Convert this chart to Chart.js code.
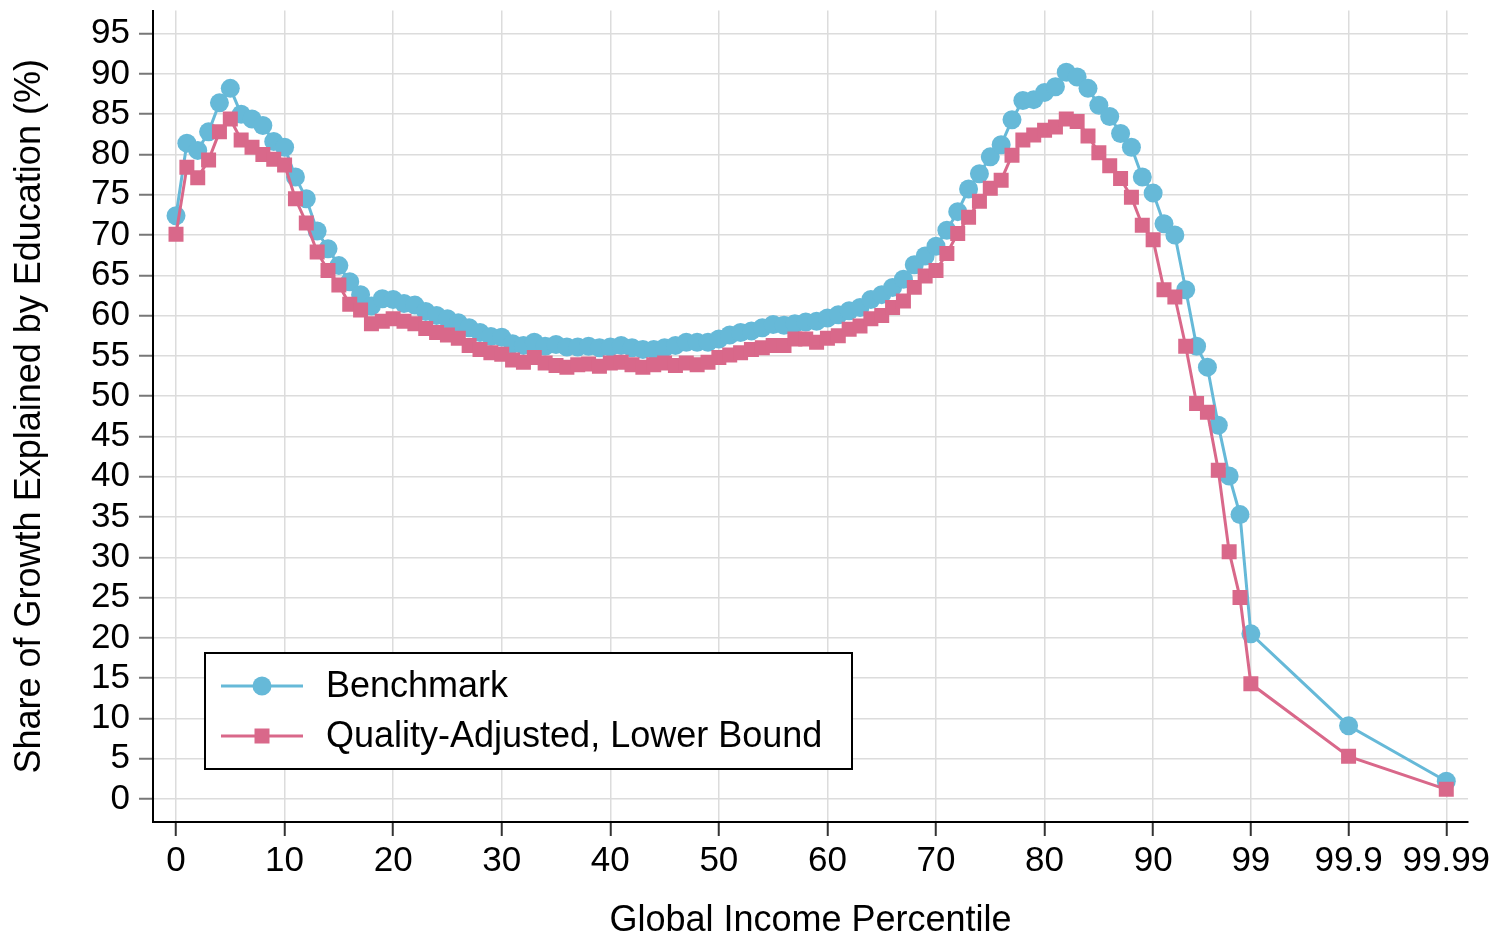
<!DOCTYPE html>
<html>
<head>
<meta charset="utf-8">
<script src="https://cdn.jsdelivr.net/npm/chart.js@4/dist/chart.umd.min.js"></script>
<style>
html,body{margin:0;padding:0;background:#fff;}
#wrap{width:1503px;height:937px;}
</style>
</head>
<body>
<div id="wrap"><canvas id="c" width="1503" height="937"></canvas></div>
<script>
// Position of each global income percentile on the x axis (0..99, then 99.9, 99.99)
const xPositions = [0,1,2,3,4,5,6,7,8,9,10,11,12,13,14,15,16,17,18,19,20,21,22,23,24,25,26,27,28,29,30,31,32,33,34,35,36,37,38,39,40,41,42,43,44,45,46,47,48,49,50,51,52,53,54,55,56,57,58,59,60,61,62,63,64,65,66,67,68,69,70,71,72,73,74,75,76,77,78,79,80,81,82,83,84,85,86,87,88,89,90,91,92,93,94,95,96,97,98,99,108,117];

const benchmark = [72.4,81.4,80.5,82.8,86.4,88.2,85.0,84.4,83.6,81.6,80.9,77.2,74.5,70.5,68.3,66.2,64.2,62.6,61.2,62.1,
62.0,61.5,61.3,60.5,60.0,59.6,59.1,58.5,57.9,57.4,57.3,56.5,56.3,56.7,56.2,56.4,56.1,56.1,56.2,56.0,
56.1,56.3,56.0,55.8,55.8,56.0,56.3,56.7,56.7,56.7,57.1,57.6,57.9,58.1,58.5,58.9,58.8,59.0,59.2,59.3,
59.7,60.1,60.6,61.0,62.0,62.6,63.5,64.5,66.3,67.4,68.6,70.6,72.9,75.7,77.6,79.7,81.2,84.3,86.7,86.8,
87.7,88.4,90.2,89.6,88.2,86.1,84.7,82.6,80.9,77.2,75.2,71.4,70.0,63.2,56.2,53.6,46.4,40.1,35.3,20.5,
9.1,2.2];

const qualityAdjusted = [70.1,78.4,77.1,79.3,82.8,84.4,81.8,80.9,80.0,79.4,78.7,74.5,71.5,67.9,65.6,63.8,61.4,60.7,59.0,59.3,
59.6,59.3,59.0,58.4,57.9,57.6,57.2,56.3,55.8,55.4,55.2,54.5,54.2,54.8,54.1,53.8,53.6,53.9,54.0,53.7,
54.1,54.2,53.9,53.6,53.9,54.1,53.8,54.1,53.9,54.2,54.8,55.1,55.4,55.8,56.0,56.3,56.3,57.1,57.1,56.7,
57.2,57.5,58.3,58.7,59.6,60.0,61.0,61.8,63.5,64.9,65.6,67.7,70.2,72.2,74.2,75.8,76.8,79.9,81.8,82.4,
83.0,83.4,84.4,84.1,82.3,80.2,78.6,77.0,74.7,71.2,69.4,63.2,62.3,56.2,49.1,48.0,40.8,30.7,25.0,14.3,
5.3,1.2];

const xTickValues = [0,10,20,30,40,50,60,70,80,90,99,108,117];
const xTickLabels = ['0','10','20','30','40','50','60','70','80','90','99','99.9','99.99'];
const yTickValues = [0,5,10,15,20,25,30,35,40,45,50,55,60,65,70,75,80,85,90,95];

const seriesNames = ['Benchmark','Quality-Adjusted, Lower Bound'];

const FONT = "'Liberation Sans', Arial, Helvetica, sans-serif";
const BLUE = '#66b9d8';
const RED = '#d9688a';

const legendPlugin = {
  id: 'boxLegend',
  afterDraw(chart) {
    const ctx = chart.ctx;
    const a = chart.chartArea;
    const left = a.left + 52, right = a.left + 699, bottom = a.bottom - 53, top = bottom - 116;
    ctx.save();
    ctx.fillStyle = '#fff';
    ctx.fillRect(left, top, right - left, bottom - top);
    ctx.strokeStyle = '#000';
    ctx.lineWidth = 2;
    ctx.strokeRect(left, top, right - left, bottom - top);
    const rows = [top + 33, top + 83];
    chart.data.datasets.slice().sort((p,q)=>p.legendIndex-q.legendIndex).forEach((ds, i) => {
      const y = rows[i];
      ctx.strokeStyle = ds.borderColor;
      ctx.lineWidth = 3;
      ctx.beginPath();
      ctx.moveTo(left + 16, y);
      ctx.lineTo(left + 98, y);
      ctx.stroke();
      ctx.fillStyle = ds.backgroundColor;
      if (ds.pointStyle === 'circle') {
        ctx.beginPath();
        ctx.arc(left + 57, y, 9.5, 0, Math.PI * 2);
        ctx.fill();
      } else {
        ctx.fillRect(left + 57 - 7.5, y - 7.5, 15, 15);
      }
      ctx.fillStyle = '#000';
      ctx.font = '36px ' + FONT;
      ctx.textBaseline = 'middle';
      ctx.textAlign = 'left';
      ctx.fillText(ds.label, left + 121, y + 1);
    });
    ctx.restore();
  }
};

const toPoints = arr => xPositions.map((x, i) => ({x: x, y: arr[i]}));

new Chart(document.getElementById('c'), {
  type: 'line',
  data: {
    datasets: [
      {
        label: seriesNames[0], legendIndex: 0, order: 1,
        data: toPoints(benchmark),
        borderColor: BLUE, backgroundColor: BLUE,
        borderWidth: 3, pointStyle: 'circle', pointRadius: 9.5,
        pointBorderWidth: 0, pointBackgroundColor: BLUE, tension: 0
      },
      {
        label: seriesNames[1], legendIndex: 1, order: 0,
        data: toPoints(qualityAdjusted),
        borderColor: RED, backgroundColor: RED,
        borderWidth: 3, pointStyle: 'rect', pointRadius: 10.6,
        pointBorderWidth: 0, pointBackgroundColor: RED, tension: 0
      }
    ]
  },
  options: {
    responsive: false,
    animation: false,
    devicePixelRatio: 1,
    layout: { padding: { left: 0, right: 35, top: 6, bottom: 0 } },
    plugins: { legend: { display: false }, tooltip: { enabled: false } },
    scales: {
      x: {
        type: 'linear', position: 'bottom',
        min: -2.12, max: 119.0,
        afterBuildTicks: s => { s.ticks = xTickValues.map(v => ({ value: v })); },
        afterFit: s => { s.height = 115; },
        ticks: {
          autoSkip: false, maxRotation: 0, minRotation: 0,
          callback: v => { const k = xTickValues.indexOf(v); return k >= 0 ? xTickLabels[k] : ''; },
          font: { family: FONT, size: 35 }, color: '#000', padding: 4
        },
        grid: { color: '#dcdcdc', lineWidth: 1.5, tickLength: 14, tickColor: '#333', tickWidth: 2, drawTicks: true },
        border: { color: '#000', width: 2 },
        title: { display: true, text: 'Global Income Percentile', color: '#000',
                 font: { family: FONT, size: 36, lineHeight: 1 }, padding: { top: 0, bottom: -2 } }
      },
      y: {
        type: 'linear', position: 'left',
        min: -2.85, max: 97.85,
        afterBuildTicks: s => { s.ticks = yTickValues.map(v => ({ value: v })); },
        afterFit: s => { s.width = 153; s.paddingTop = 0; s.paddingBottom = 0; },
        ticks: {
          autoSkip: false,
          callback: v => String(v),
          font: { family: FONT, size: 35 }, color: '#000', padding: 9
        },
        grid: { color: '#dcdcdc', lineWidth: 1.5, tickLength: 14, tickColor: '#777', tickWidth: 2, drawTicks: true },
        border: { color: '#000', width: 2 },
        title: { display: true, text: 'Share of Growth Explained by Education (%)', color: '#000',
                 font: { family: FONT, size: 36, lineHeight: 1 }, padding: { top: 12, bottom: 0 } }
      }
    }
  },
  plugins: [legendPlugin]
});
</script>
</body>
</html>
